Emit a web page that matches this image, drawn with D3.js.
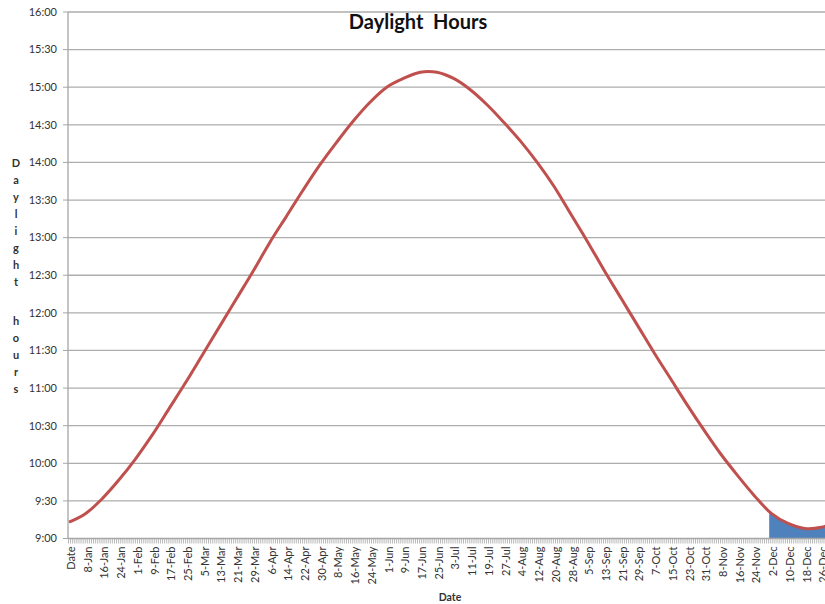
<!DOCTYPE html>
<html>
<head>
<meta charset="utf-8">
<script src="https://cdn.jsdelivr.net/npm/d3@7"></script>
<style>
  body { margin: 0; background: #fff; }
  svg { display: block; font-family: Lato, "Open Sans", sans-serif; }
</style>
</head>
<body>
<svg width="825" height="604"></svg>
<script>
// daylight at every labelled date (every 8th category)
const labelDates = ["Date", "8-Jan", "16-Jan", "24-Jan", "1-Feb", "9-Feb", "17-Feb", "25-Feb",
  "5-Mar", "13-Mar", "21-Mar", "29-Mar", "6-Apr", "14-Apr", "22-Apr", "30-Apr", "8-May",
  "16-May", "24-May", "1-Jun", "9-Jun", "17-Jun", "25-Jun", "3-Jul", "11-Jul", "19-Jul",
  "27-Jul", "4-Aug", "12-Aug", "20-Aug", "28-Aug", "5-Sep", "13-Sep", "21-Sep", "29-Sep",
  "7-Oct", "15-Oct", "23-Oct", "31-Oct", "8-Nov", "16-Nov", "24-Nov", "2-Dec", "10-Dec",
  "18-Dec", "26-Dec"];
const daylight = ["9:13", "9:20", "9:32", "9:47", "10:04", "10:23", "10:44", "11:05",
  "11:27", "11:49", "12:11", "12:33", "12:56", "13:17", "13:38", "13:58", "14:16",
  "14:33", "14:48", "15:00", "15:07", "15:12", "15:12", "15:07", "14:58", "14:46",
  "14:32", "14:17", "14:00", "13:41", "13:19", "12:57", "12:34", "12:12", "11:50",
  "11:28", "11:07", "10:46", "10:26", "10:07", "9:50", "9:34", "9:20", "9:12",
  "9:08", "9:09"];
const lastDate = "31-Dec";
const lastDaylight = "9:12";
const highlightFrom = "1-Dec"; // blue area runs from here to year end

const yTickLabels = ["9:00", "9:30", "10:00", "10:30", "11:00", "11:30", "12:00", "12:30",
  "13:00", "13:30", "14:00", "14:30", "15:00", "15:30", "16:00"];

const toMin = s => { const [h, m] = s.split(":"); return +h * 60 + +m; };

// category axis: header cell "Date" followed by every day of a non-leap year
const fmt = d3.timeFormat("%-d-%b");
const categories = ["Date"].concat(
  d3.timeDay.range(new Date(2013, 0, 1), new Date(2014, 0, 1)).map(fmt));

const points = labelDates.map((d, i) => ({date: d, v: toMin(daylight[i])}))
  .concat([{date: lastDate, v: toMin(lastDaylight)}]);

const plotLeft = 68, plotTop = 12, plotBottom = 538.5;
const step = 2.09;

const svg = d3.select("svg");

const x = d3.scaleBand()
  .domain(categories)
  .range([plotLeft, plotLeft + categories.length * step]);
const cx = d => x(d) + x.bandwidth() / 2;

const y = d3.scaleLinear()
  .domain([toMin(yTickLabels[0]), toMin(yTickLabels[yTickLabels.length - 1])])
  .range([plotBottom, plotTop]);

// gridlines
svg.append("g")
  .selectAll("line")
  .data(yTickLabels.slice(1))
  .join("line")
  .attr("x1", plotLeft)
  .attr("x2", x.range()[1])
  .attr("y1", d => y(toMin(d)))
  .attr("y2", d => y(toMin(d)))
  .attr("stroke", "#adadad")
  .attr("stroke-width", 1.3);

// y axis
svg.append("line")
  .attr("x1", plotLeft).attr("x2", plotLeft)
  .attr("y1", plotTop).attr("y2", plotBottom)
  .attr("stroke", "#a6a6a6").attr("stroke-width", 1.3);

svg.append("g")
  .selectAll("line")
  .data(yTickLabels)
  .join("line")
  .attr("x1", plotLeft - 5).attr("x2", plotLeft)
  .attr("y1", d => y(toMin(d)))
  .attr("y2", d => y(toMin(d)))
  .attr("stroke", "#a6a6a6");

svg.append("g")
  .selectAll("text")
  .data(yTickLabels)
  .join("text")
  .attr("x", 57)
  .attr("y", d => y(toMin(d)))
  .attr("dy", "0.35em")
  .attr("text-anchor", "end")
  .attr("font-size", 11)
  .attr("fill", "#333")
  .text(d => d);

// highlighted area (clipped to December)
svg.append("clipPath")
  .attr("id", "hl")
  .append("rect")
  .attr("x", cx(highlightFrom))
  .attr("y", 0)
  .attr("width", 200)
  .attr("height", 604);

const curve = d3.curveCatmullRom.alpha(0.5);

svg.append("path")
  .datum(points)
  .attr("clip-path", "url(#hl)")
  .attr("fill", "#4f81bd")
  .attr("d", d3.area()
    .curve(curve)
    .x(d => cx(d.date))
    .y0(plotBottom)
    .y1(d => y(d.v)));

// x axis
svg.append("line")
  .attr("x1", plotLeft).attr("x2", x.range()[1])
  .attr("y1", plotBottom).attr("y2", plotBottom)
  .attr("stroke", "#a6a6a6").attr("stroke-width", 1.3);

svg.append("g")
  .selectAll("line")
  .data(categories)
  .join("line")
  .attr("x1", d => x(d) + 0.5)
  .attr("x2", d => x(d) + 0.5)
  .attr("y1", plotBottom)
  .attr("y2", plotBottom + 5)
  .attr("stroke", "#a6a6a6")
  .attr("stroke-width", 0.8);

svg.append("g")
  .selectAll("text")
  .data(labelDates)
  .join("text")
  .attr("transform", d => `translate(${cx(d) + 2},${plotBottom + 8}) rotate(-90)`)
  .attr("dy", "0.35em")
  .attr("text-anchor", "end")
  .attr("font-size", 11)
  .attr("fill", "#333")
  .text(d => d);

// daylight line
svg.append("path")
  .datum(points)
  .attr("fill", "none")
  .attr("stroke", "#c0504d")
  .attr("stroke-width", 3)
  .attr("stroke-linejoin", "round")
  .attr("d", d3.line()
    .curve(curve)
    .x(d => cx(d.date))
    .y(d => y(d.v)));

// titles
svg.append("text")
  .attr("x", 418)
  .attr("y", 29)
  .attr("text-anchor", "middle")
  .attr("font-size", 20)
  .attr("font-weight", "bold")
  .attr("fill", "#111")
  .style("white-space", "pre")
  .text("Daylight  Hours");

svg.append("text")
  .attr("x", 450)
  .attr("y", 601)
  .attr("text-anchor", "middle")
  .attr("font-size", 10.5)
  .attr("font-weight", "bold")
  .attr("fill", "#333")
  .text("Date");

// vertical stacked axis title
const yTitle = "Daylight hours".split("");
svg.append("g")
  .selectAll("text")
  .data(yTitle)
  .join("text")
  .attr("x", 16)
  .attr("y", (d, i) => 163 + i * 17 + (i > 8 ? 5 : 0))
  .attr("dy", "0.35em")
  .attr("text-anchor", "middle")
  .attr("font-size", 11)
  .attr("font-weight", "bold")
  .attr("fill", "#333")
  .text(d => d);
</script>
</body>
</html>
